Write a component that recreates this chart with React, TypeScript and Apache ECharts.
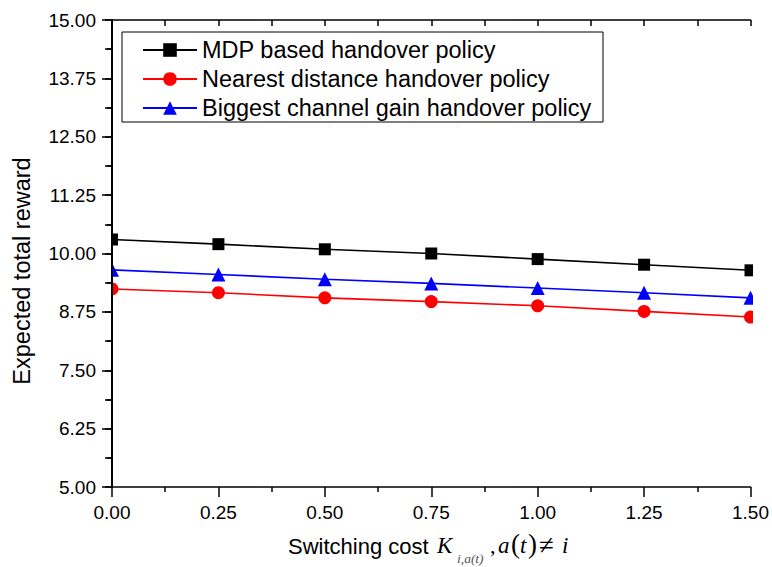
import React, { useEffect, useRef } from "react";
import * as echarts from "echarts";

const xValues = [0, 0.25, 0.5, 0.75, 1.0, 1.25, 1.5];
const mdpValues = [10.3, 10.2, 10.09, 10.0, 9.88, 9.76, 9.64];
const nearestValues = [9.24, 9.16, 9.05, 8.97, 8.88, 8.76, 8.64];
const biggestValues = [9.65, 9.55, 9.45, 9.36, 9.26, 9.16, 9.05];
const seriesNames = [
  "MDP based handover policy",
  "Nearest distance handover policy",
  "Biggest channel gain handover policy",
];
const yAxisTitle = "Expected total reward";

const FONT = "'Liberation Sans', Arial, sans-serif";
const SERIF = "'Liberation Serif', 'Times New Roman', serif";

export default function App() {
  const ref = useRef<HTMLDivElement>(null);
  useEffect(() => {
    if (!ref.current) return;
    const chart = echarts.init(ref.current, undefined, { renderer: "svg" });
    const mk = (vals: number[]) => xValues.map((x, i) => [x, vals[i]]);
    const axisLine = { lineStyle: { color: "#000", width: 1.5 } };
    const mathText = (x: number, y: number, text: string, size: number, italic: boolean, fill = "#000") => ({
      type: "text",
      x,
      y,
      z: 6,
      style: {
        text,
        fontSize: size,
        fontStyle: italic ? "italic" : "normal",
        fontFamily: SERIF,
        fill,
        align: "left",
        verticalAlign: "middle",
      },
    });
    chart.setOption({
      animation: false,
      backgroundColor: "#fff",
      grid: { left: 112, right: 20, top: 20, bottom: 80 },
      xAxis: [
        {
          type: "value",
          z: 4,
          min: 0,
          max: 1.5,
          interval: 0.25,
          position: "bottom",
          axisLine,
          axisTick: { show: true, length: 10, lineStyle: { color: "#000", width: 1.5 } },
          minorTick: { show: true, splitNumber: 2, length: 5, lineStyle: { color: "#000", width: 1.5 } },
          splitLine: { show: false },
          axisLabel: {
            color: "#000",
            fontSize: 19,
            fontFamily: FONT,
            margin: 16,
            formatter: (v: number) => v.toFixed(2),
          },
        },
        {
          type: "value",
          z: 4,
          min: 0,
          max: 1.5,
          interval: 0.25,
          position: "top",
          axisLine,
          axisTick: { show: true, inside: true, length: 6, lineStyle: { color: "#000", width: 1.5 } },
          minorTick: { show: true, splitNumber: 2, length: 6, lineStyle: { color: "#000", width: 1.5 } },
          splitLine: { show: false },
          axisLabel: { show: false },
        },
      ],
      yAxis: [
        {
          type: "value",
          z: 4,
          min: 5,
          max: 15,
          interval: 1.25,
          position: "left",
          axisLine: { lineStyle: { color: "#000", width: 2 } },
          axisTick: { show: true, length: 10, lineStyle: { color: "#000", width: 1.5 } },
          minorTick: { show: true, splitNumber: 2, length: 5, lineStyle: { color: "#000", width: 1.5 } },
          splitLine: { show: false },
          axisLabel: {
            color: "#000",
            fontSize: 19,
            fontFamily: FONT,
            margin: 16,
            formatter: (v: number) => v.toFixed(2),
          },
        },
        {
          type: "value",
          z: 4,
          min: 5,
          max: 15,
          interval: 1.25,
          position: "right",
          axisLine: { lineStyle: { color: "#000", width: 2 } },
          axisTick: { show: true, inside: true, length: 7, lineStyle: { color: "#000", width: 1.5 } },
          minorTick: { show: true, splitNumber: 2, length: 7, lineStyle: { color: "#000", width: 1.5 } },
          splitLine: { show: false },
          axisLabel: { show: false },
        },
      ],
      legend: {
        orient: "vertical",
        left: 142,
        top: 38,
        padding: 0,
        itemGap: 5,
        itemWidth: 54,
        itemHeight: 17,
        z: 6,
        textStyle: { color: "#000", fontSize: 23.5, fontFamily: FONT },
        data: seriesNames,
      },
      series: [
        {
          name: seriesNames[0],
          type: "line",
          z: -1,
          data: mk(mdpValues),
          symbol: "rect",
          symbolSize: 12,
          color: "#000",
          lineStyle: { color: "#000", width: 1.6 },
          itemStyle: { color: "#000" },
        },
        {
          name: seriesNames[1],
          type: "line",
          z: -1,
          data: mk(nearestValues),
          symbol: "circle",
          symbolSize: 13,
          color: "#ff0000",
          lineStyle: { color: "#ff0000", width: 1.6 },
          itemStyle: { color: "#ff0000" },
        },
        {
          name: seriesNames[2],
          type: "line",
          z: -1,
          data: mk(biggestValues),
          symbol: "triangle",
          symbolSize: 14,
          color: "#0000ff",
          lineStyle: { color: "#0000ff", width: 1.6 },
          itemStyle: { color: "#0000ff" },
        },
      ],
      graphic: [
        {
          type: "rect",
          z: 3,
          shape: { x: 96, y: 225, width: 15, height: 80 },
          style: { fill: "#fff", stroke: "none" },
        },
        {
          type: "rect",
          z: 3,
          shape: { x: 753, y: 250, width: 19, height: 80 },
          style: { fill: "#fff", stroke: "none" },
        },
        {
          type: "rect",
          z: 6,
          shape: { x: 122, y: 32, width: 481, height: 90 },
          style: { fill: "none", stroke: "#000", lineWidth: 1 },
        },
        {
          type: "text",
          x: 22,
          y: 271,
          z: 6,
          rotation: Math.PI / 2,
          style: {
            text: yAxisTitle,
            fontSize: 23.5,
            fontFamily: FONT,
            fill: "#000",
            align: "center",
            verticalAlign: "middle",
          },
        },
        {
          type: "text",
          x: 288,
          y: 546,
          z: 6,
          style: { text: "Switching cost", fontSize: 22, fontFamily: FONT, fill: "#000", align: "left", verticalAlign: "middle" },
        },
        mathText(437, 545, "K", 23, true),
        mathText(457, 558, "i,a(t)", 13.5, true, "#555"),
        mathText(490, 545, ",", 22, false),
        mathText(498, 545, "a", 23, true),
        mathText(511, 544, "(", 27, false),
        mathText(520, 545, "t", 23, true),
        mathText(528, 544, ")", 27, false),
        mathText(539, 545, "≠", 27, false),
        mathText(562, 545, "i", 23, true),
      ],
    });
    return () => chart.dispose();
  }, []);
  return <div ref={ref} style={{ width: 772, height: 567, position: "absolute", left: 0, top: 0 }} />;
}
